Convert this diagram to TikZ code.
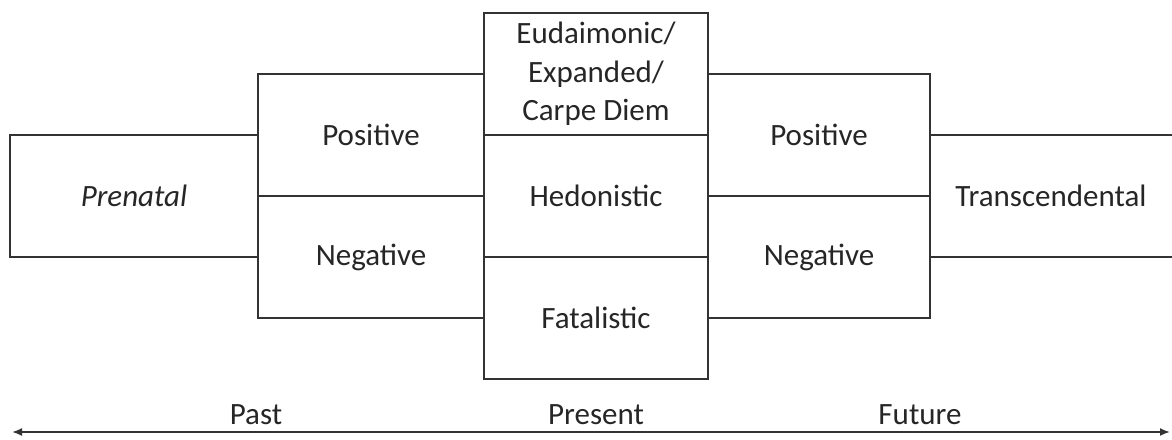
\documentclass[tikz,border=0pt]{standalone}
\usepackage{fontspec}
\setmainfont{Carlito}
\usetikzlibrary{arrows.meta}
\definecolor{ln}{HTML}{333333}
\definecolor{tx}{HTML}{262626}
\begin{document}
\begin{tikzpicture}[x=0.5pt,y=-0.5pt,
  font=\fontsize{15.5}{19.3}\selectfont,
  cell/.style={draw=ln, line width=0.8pt, rectangle, inner sep=0pt, outer sep=0pt,
    minimum height=61pt, align=center, text=tx},
  lbl/.style={text=tx, inner sep=0pt}]
\useasboundingbox (0,0) rectangle (1172,439);
\node[cell, minimum width=124pt] (pre) at (134,196) {\itshape Prenatal};
\node[cell, minimum width=113pt] (pastpos) at (371,135) {Positive};
\node[cell, minimum width=113pt] (pastneg) at (371,257) {Negative};
\node[cell, minimum width=112pt] (eud) at (596,74) {Eudaimonic/\\Expanded/\\Carpe Diem};
\node[cell, minimum width=112pt] (hed) at (596,196) {Hedonistic};
\node[cell, minimum width=112pt] (fat) at (596,318) {Fatalistic};
\node[cell, minimum width=111pt] (futpos) at (819,135) {Positive};
\node[cell, minimum width=111pt] (futneg) at (819,257) {Negative};
\node[cell, draw=none, minimum width=121pt] (trans) at (1051,196) {Transcendental};
\draw[ln, line width=0.8pt] (trans.north east) -- (trans.north west) -- (trans.south west) -- (trans.south east);
\node[lbl] (past) at (256,415) {Past};
\node[lbl] (present) at (596,415) {Present};
\node[lbl] (future) at (920,415) {Future};
\coordinate (al) at (12,432);
\coordinate (ar) at (1170,432);
\draw[ln, line width=0.9pt, {Latex[length=5pt,width=4pt]}-{Latex[length=5pt,width=4pt]}] (al) -- (ar);
\end{tikzpicture}
\end{document}
